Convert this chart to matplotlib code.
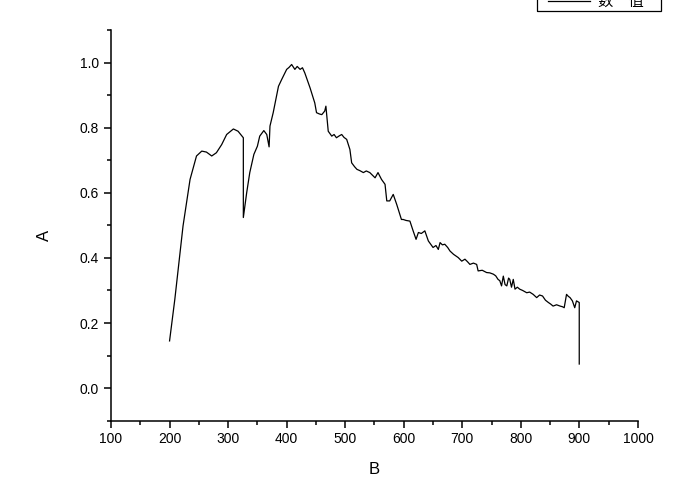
import numpy as np
import matplotlib.pyplot as plt
from matplotlib.ticker import MultipleLocator
from matplotlib.patches import Rectangle
from matplotlib.lines import Line2D

plt.rcParams['font.family'] = ['Liberation Sans', 'Noto Sans CJK SC', 'DejaVu Sans']

# values
b = [200, 209, 223, 235, 240.5, 246, 255, 263, 272, 280, 289, 297.5, 309, 317, 326,
     326, 331.7, 337, 344, 350, 354, 361, 366, 370, 371.5, 377, 386, 391.5, 400,
     404, 408.5, 414, 418, 423, 427, 431, 440, 448, 451, 456, 460, 465, 467,
     471, 477, 481, 485, 490, 494, 498, 502.5, 508, 511, 516, 520, 525, 531, 536,
     542, 546, 551, 556, 562, 568, 571, 576, 582, 588, 596, 599, 604, 610.5, 616,
     621, 625, 630, 636, 642, 650, 655, 659, 662, 666, 670, 675, 679, 685, 693, 699,
     704.5, 709, 713, 719, 724.5, 727, 734, 741.5, 747, 753, 757, 761, 764, 767,
     770, 773, 776, 779, 781, 784, 787, 790, 794, 798, 803, 810, 815, 821, 827,
     832, 837, 842, 847, 851, 855, 861, 867, 871, 874, 878, 881, 884, 888, 892,
     895, 899.7, 899.7]
a = [0.145, 0.273, 0.498, 0.641, 0.677, 0.713, 0.728, 0.725, 0.713, 0.723, 0.748,
     0.779, 0.796, 0.789, 0.769, 0.524, 0.600, 0.662, 0.718, 0.743, 0.774, 0.791,
     0.779, 0.741, 0.805, 0.846, 0.927, 0.948, 0.979, 0.985, 0.994, 0.979, 0.988,
     0.979, 0.984, 0.968, 0.922, 0.876, 0.846, 0.842, 0.840, 0.851, 0.866, 0.789,
     0.774, 0.779, 0.769, 0.775, 0.779, 0.770, 0.764, 0.733, 0.692, 0.680, 0.672,
     0.668, 0.662, 0.667, 0.662, 0.655, 0.646, 0.662, 0.641, 0.626, 0.575, 0.575,
     0.595, 0.564, 0.518, 0.518, 0.515, 0.513, 0.483, 0.457, 0.478, 0.475, 0.483,
     0.452, 0.432, 0.438, 0.426, 0.447, 0.440, 0.442, 0.432, 0.421, 0.411, 0.401,
     0.390, 0.396, 0.388, 0.380, 0.384, 0.380, 0.360, 0.362, 0.355, 0.354, 0.350,
     0.345, 0.334, 0.330, 0.314, 0.344, 0.318, 0.314, 0.338, 0.334, 0.310, 0.334,
     0.304, 0.310, 0.304, 0.300, 0.293, 0.295, 0.288, 0.278, 0.286, 0.283, 0.270,
     0.263, 0.258, 0.252, 0.256, 0.252, 0.250, 0.247, 0.288, 0.282, 0.278, 0.268,
     0.247, 0.268, 0.263, 0.074]
legend_label = '数\u3000值'

W, H = 684, 482
fig = plt.figure(figsize=(W / 100, H / 100), dpi=100)
ax = fig.add_axes([0.1623, 0.1272, 0.7704, 0.8106])

ax.plot(b, a, color='black', lw=0.9)

ax.set_xlim(100, 1000)
ax.set_ylim(-0.1, 1.1)
ax.xaxis.set_major_locator(MultipleLocator(100))
ax.xaxis.set_minor_locator(MultipleLocator(50))
ax.yaxis.set_minor_locator(MultipleLocator(0.1))
ax.set_yticks([0.0, 0.2, 0.4, 0.6, 0.8, 1.0])
ax.set_yticklabels(['0.0', '0.2', '0.4', '0.6', '0.8', '1.0'])

for s in ['top', 'right']:
    ax.spines[s].set_visible(False)
for s in ['left', 'bottom']:
    ax.spines[s].set_linewidth(1.1)
ax.tick_params(which='major', direction='out', length=5, width=1.1, labelsize=10)
ax.tick_params(which='minor', direction='out', length=3, width=1.1)

ax.set_xlabel('B', fontsize=12, labelpad=11)
ax.set_ylabel('A', fontsize=12, labelpad=20, y=0.473)

# legend box, partly cut off by the top edge like in the reference
tf = fig.transFigure
fig.add_artist(Rectangle((537 / W, 1 - 11 / H), 124 / W, 20 / H, transform=tf,
                         fill=False, ec='black', lw=0.9))
fig.add_artist(Line2D([548 / W, 590 / W], [1 - 1 / H, 1 - 1 / H], transform=tf,
                      color='black', lw=0.9))
fig.text(598 / W, 1 - 6 / H, legend_label, fontsize=11, va='baseline', ha='left',
         family=['Noto Sans CJK SC', 'DejaVu Sans'])

fig.savefig('out.png', dpi=100)
